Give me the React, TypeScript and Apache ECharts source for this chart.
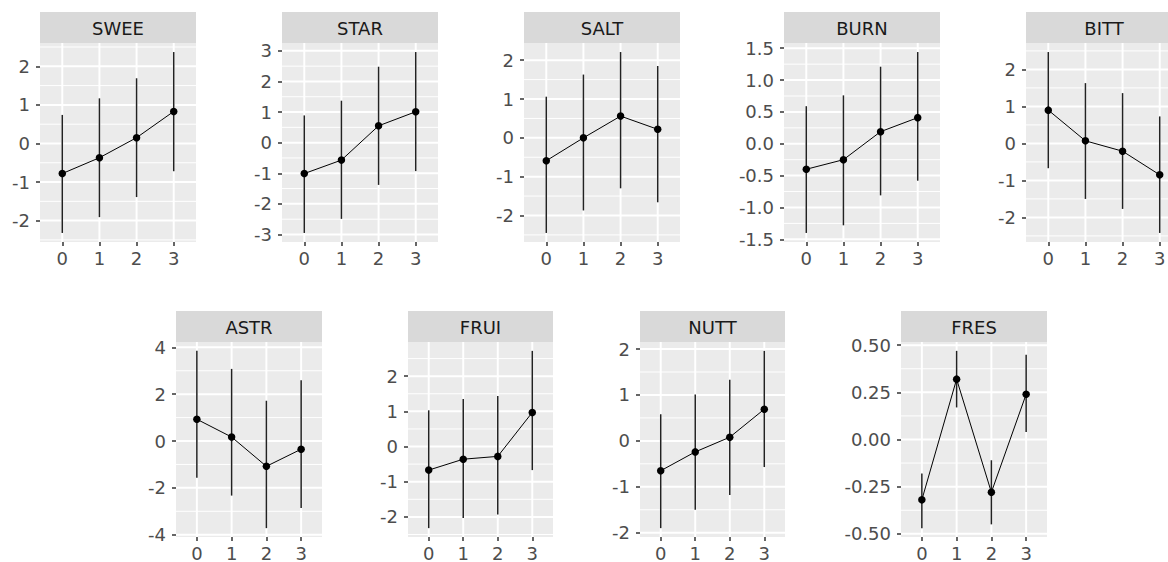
import React, { useEffect, useRef } from 'react';
import * as echarts from 'echarts';

// x categories (levels)
const categories = [0, 1, 2, 3];
const panelNames = ['SWEE', 'STAR', 'SALT', 'BURN', 'BITT', 'ASTR', 'FRUI', 'NUTT', 'FRES'];

// point estimates and interval bounds per attribute
const sweeMean = [-0.78, -0.37, 0.15, 0.83];
const sweeLower = [-2.32, -1.91, -1.39, -0.72];
const sweeUpper = [0.74, 1.17, 1.69, 2.37];

const starMean = [-1.01, -0.57, 0.55, 1.01];
const starLower = [-2.95, -2.49, -1.38, -0.93];
const starUpper = [0.89, 1.37, 2.48, 2.96];

const saltMean = [-0.59, 0.0, 0.56, 0.22];
const saltLower = [-2.45, -1.87, -1.3, -1.66];
const saltUpper = [1.06, 1.63, 2.21, 1.85];

const burnMean = [-0.4, -0.25, 0.19, 0.41];
const burnLower = [-1.4, -1.28, -0.81, -0.58];
const burnUpper = [0.59, 0.76, 1.21, 1.44];

const bittMean = [0.9, 0.07, -0.21, -0.85];
const bittLower = [-0.67, -1.5, -1.77, -2.42];
const bittUpper = [2.47, 1.63, 1.36, 0.73];

const astrMean = [0.93, 0.17, -1.08, -0.35];
const astrLower = [-1.57, -2.33, -3.72, -2.86];
const astrUpper = [3.85, 3.08, 1.72, 2.6];

const fruiMean = [-0.67, -0.36, -0.28, 0.97];
const fruiLower = [-2.32, -2.03, -1.93, -0.67];
const fruiUpper = [1.03, 1.35, 1.44, 2.72];

const nuttMean = [-0.65, -0.24, 0.08, 0.69];
const nuttLower = [-1.9, -1.5, -1.18, -0.57];
const nuttUpper = [0.58, 1.01, 1.33, 1.96];

const fresMean = [-0.32, 0.32, -0.28, 0.24];
const fresLower = [-0.47, 0.17, -0.45, 0.04];
const fresUpper = [-0.18, 0.47, -0.11, 0.45];

// y tick labels per panel
const sweeTicks = [-2, -1, 0, 1, 2];
const starTicks = [-3, -2, -1, 0, 1, 2, 3];
const saltTicks = [-2, -1, 0, 1, 2];
const burnTicks = [-1.5, -1, -0.5, 0, 0.5, 1, 1.5];
const bittTicks = [-2, -1, 0, 1, 2];
const astrTicks = [-4, -2, 0, 2, 4];
const fruiTicks = [-2, -1, 0, 1, 2];
const nuttTicks = [-2, -1, 0, 1, 2];
const fresTicks = [-0.5, -0.25, 0, 0.25, 0.5];
const tickDecimals = [0, 0, 0, 1, 0, 0, 0, 0, 2];

const means = [sweeMean, starMean, saltMean, burnMean, bittMean, astrMean, fruiMean, nuttMean, fresMean];
const lowers = [sweeLower, starLower, saltLower, burnLower, bittLower, astrLower, fruiLower, nuttLower, fresLower];
const uppers = [sweeUpper, starUpper, saltUpper, burnUpper, bittUpper, astrUpper, fruiUpper, nuttUpper, fresUpper];
const ticks = [sweeTicks, starTicks, saltTicks, burnTicks, bittTicks, astrTicks, fruiTicks, nuttTicks, fresTicks];

// layout (pixels)
const layout = [
  { left: 40, top: 43, width: 156, height: 199 },
  { left: 282, top: 43, width: 156, height: 199 },
  { left: 524, top: 43, width: 156, height: 199 },
  { left: 784, top: 43, width: 156, height: 199 },
  { left: 1026, top: 43, width: 156, height: 199 },
  { left: 176, top: 342, width: 146, height: 199 },
  { left: 408, top: 342, width: 145, height: 199 },
  { left: 640, top: 342, width: 145, height: 199 },
  { left: 901, top: 342, width: 146, height: 199 },
];
const STRIP_H = 31;
const X_MIN = -0.6;
const X_MAX = 3.6;
const FONT = '"DejaVu Sans", "Liberation Sans", sans-serif';
const TICK_FS = 18;

function buildOption() {
  const grid: any[] = [];
  const xAxis: any[] = [];
  const yAxis: any[] = [];
  const series: any[] = [];
  const graphic: any[] = [];

  panelNames.forEach((name, i) => {
    const L = layout[i];
    const lo = Math.min(...lowers[i]);
    const hi = Math.max(...uppers[i]);
    const pad = (hi - lo) * 0.05;
    const yMin = lo - pad;
    const yMax = hi + pad;
    const t = ticks[i];
    const step = t[1] - t[0];
    const minor: number[] = [];
    for (let k = 0; k <= t.length; k++) {
      const v = t[0] - step / 2 + k * step;
      if (v > yMin && v < yMax) minor.push(v);
    }

    grid.push({
      left: L.left, top: L.top, width: L.width, height: L.height,
      show: true, backgroundColor: '#EBEBEB', borderWidth: 0, containLabel: false,
    });
    xAxis.push({
      type: 'value', gridIndex: i, min: X_MIN, max: X_MAX,
      axisLine: { show: false, onZero: false },
      splitLine: { show: false },
      axisTick: { show: true, customValues: categories, length: 4, lineStyle: { color: '#333333', width: 1.5 } },
      axisLabel: {
        customValues: categories, color: '#4D4D4D', fontSize: TICK_FS, fontFamily: FONT, margin: 7,
        formatter: (v: number) => String(Math.round(v)),
      },
    });
    yAxis.push({
      type: 'value', gridIndex: i, min: yMin, max: yMax,
      axisLine: { show: false, onZero: false },
      splitLine: { show: false },
      axisTick: { show: true, customValues: t, length: 4, lineStyle: { color: '#333333', width: 1.5 } },
      axisLabel: {
        customValues: t, color: '#4D4D4D', fontSize: TICK_FS, fontFamily: FONT, margin: 10,
        formatter: (v: number) => v.toFixed(tickDecimals[i]),
      },
    });

    // grid lines through the scales
    const gridData: any[] = [];
    minor.forEach((v) => gridData.push([0, v, 1]));
    t.forEach((v) => gridData.push([0, v, 0]));
    categories.forEach((c) => gridData.push([c, 0, 2]));
    series.push({
      type: 'custom', xAxisIndex: i, yAxisIndex: i, silent: true, z: 1,
      data: gridData,
      encode: { x: 0, y: 1 },
      renderItem: (params: any, api: any) => {
        const kind = api.value(2);
        let p1, p2;
        if (kind === 2) {
          p1 = api.coord([api.value(0), yMin]);
          p2 = api.coord([api.value(0), yMax]);
        } else {
          p1 = api.coord([X_MIN, api.value(1)]);
          p2 = api.coord([X_MAX, api.value(1)]);
        }
        return {
          type: 'line',
          shape: { x1: p1[0], y1: p1[1], x2: p2[0], y2: p2[1] },
          style: { stroke: '#FFFFFF', lineWidth: kind === 1 ? 1 : 2 },
        };
      },
    });

    // error bars
    series.push({
      type: 'custom', xAxisIndex: i, yAxisIndex: i, silent: true, z: 2,
      data: categories.map((c, k) => [c, lowers[i][k], uppers[i][k]]),
      encode: { x: 0, y: [1, 2] },
      renderItem: (params: any, api: any) => {
        const p1 = api.coord([api.value(0), api.value(1)]);
        const p2 = api.coord([api.value(0), api.value(2)]);
        return {
          type: 'line',
          shape: { x1: p1[0], y1: p1[1], x2: p2[0], y2: p2[1] },
          style: { stroke: '#222222', lineWidth: 1.5 },
        };
      },
    });

    // line + points
    series.push({
      type: 'line', xAxisIndex: i, yAxisIndex: i, silent: true, z: 3,
      data: categories.map((c, k) => [c, means[i][k]]),
      symbol: 'circle', symbolSize: 7.5,
      itemStyle: { color: '#000000' },
      lineStyle: { color: '#000000', width: 1 },
    });

    // facet strip
    graphic.push({
      type: 'rect', silent: true,
      shape: { x: L.left, y: L.top - STRIP_H, width: L.width, height: STRIP_H },
      style: { fill: '#D9D9D9' },
    });
    graphic.push({
      type: 'text', silent: true,
      x: L.left + L.width / 2, y: L.top - STRIP_H / 2 + 1,
      style: {
        text: name, fill: '#1A1A1A', fontSize: 18, fontFamily: FONT,
        align: 'center', verticalAlign: 'middle', textAlign: 'center', textVerticalAlign: 'middle',
      },
    });
  });

  return { animation: false, backgroundColor: '#FFFFFF', grid, xAxis, yAxis, series, graphic };
}

export default function App() {
  const ref = useRef<HTMLDivElement>(null);
  useEffect(() => {
    if (!ref.current) return;
    const chart = echarts.init(ref.current, undefined, { renderer: 'svg' });
    chart.setOption(buildOption() as any);
    return () => chart.dispose();
  }, []);
  return (
    <div style={{ position: 'fixed', left: 0, top: 0, width: 1168, height: 562, overflow: 'hidden', background: '#fff' }}>
      <div ref={ref} style={{ width: 1200, height: 562 }} />
    </div>
  );
}
